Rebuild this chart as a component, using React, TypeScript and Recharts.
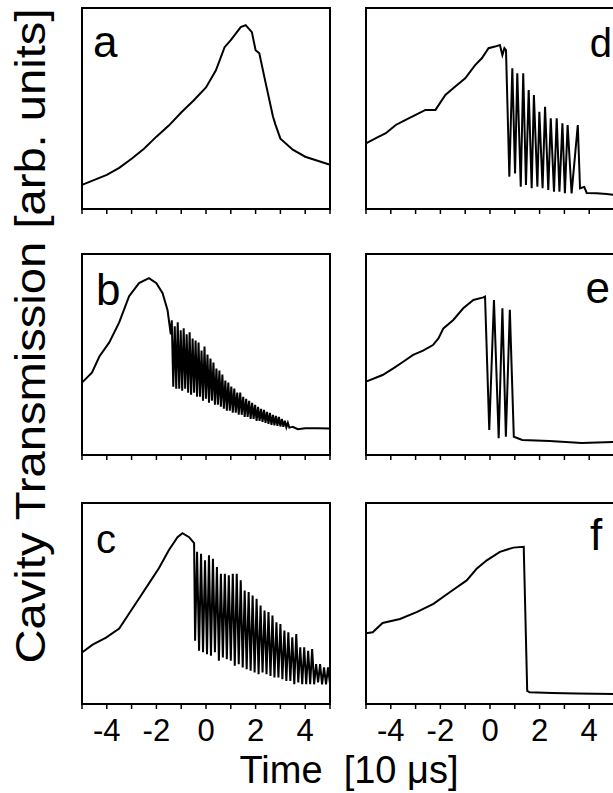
import { LineChart, Line, XAxis, YAxis, ReferenceArea } from "recharts";

// time axis in units of 10 us, signal as a fraction of the panel height
const tickValues = [-5, -4, -3, -2, -1, 0, 1, 2, 3, 4, 5];
const tickLabels = [-4, -2, 0, 2, 4];

const aTime = [-5, -4.5, -4, -3.5, -3, -2.5, -2, -1.5, -1, -0.5, 0, 0.4, 0.75, 1, 1.4, 1.6, 1.85, 2, 2.15, 2.4, 2.7, 2.8, 3, 3.5, 4, 4.5, 5];
const aSignal = [0.12, 0.145, 0.17, 0.205, 0.25, 0.3, 0.36, 0.415, 0.48, 0.54, 0.605, 0.69, 0.805, 0.84, 0.905, 0.915, 0.88, 0.79, 0.775, 0.63, 0.46, 0.42, 0.35, 0.295, 0.26, 0.24, 0.22];

const bTime = [-5, -4.6, -4.3, -3.9, -3.5, -3.1, -2.7, -2.3, -2, -1.75, -1.55, -1.42,
  -1.38, -1.32, -1.26, -1.2, -1.14, -1.08, -1.02, -0.96, -0.9, -0.84, -0.78, -0.72, -0.66, -0.6, -0.54, -0.48,
  -0.42, -0.36, -0.3, -0.24, -0.18, -0.12, -0.06, 0, 0.06, 0.12, 0.18, 0.24, 0.3, 0.36, 0.42, 0.48,
  0.54, 0.6, 0.66, 0.72, 0.78, 0.84, 0.9, 0.96, 1.02, 1.08, 1.14, 1.2, 1.26, 1.32, 1.38, 1.44,
  1.5, 1.56, 1.62, 1.68, 1.74, 1.8, 1.86, 1.92, 1.98, 2.04, 2.1, 2.16, 2.22, 2.28, 2.34, 2.4,
  2.46, 2.52, 2.58, 2.64, 2.7, 2.76, 2.82, 2.88, 2.94, 3, 3.06, 3.12, 3.18, 3.24, 3.3, 3.36,
  3.5, 3.7, 4, 4.5, 5];
const bSignal = [0.36, 0.41, 0.49, 0.56, 0.66, 0.79, 0.855, 0.88, 0.855, 0.805, 0.72, 0.6,
  0.67, 0.34, 0.64, 0.33, 0.66, 0.33, 0.62, 0.32, 0.63, 0.33, 0.6, 0.31, 0.61, 0.3, 0.58, 0.31,
  0.57, 0.29, 0.56, 0.29, 0.52, 0.27, 0.54, 0.28, 0.5, 0.26, 0.48, 0.27, 0.46, 0.25, 0.43, 0.25,
  0.42, 0.24, 0.4, 0.23, 0.37, 0.22, 0.36, 0.22, 0.34, 0.21, 0.33, 0.21, 0.31, 0.2, 0.31, 0.2,
  0.29, 0.19, 0.28, 0.19, 0.27, 0.18, 0.26, 0.18, 0.25, 0.17, 0.24, 0.17, 0.23, 0.165, 0.225, 0.16,
  0.215, 0.155, 0.21, 0.15, 0.2, 0.148, 0.195, 0.145, 0.19, 0.142, 0.18, 0.14, 0.17, 0.138, 0.16, 0.136,
  0.14, 0.128, 0.133, 0.133, 0.132];

const cTime = [-5, -4.57, -4.03, -3.5, -3.1, -2.7, -2.3, -1.9, -1.5, -1.15, -0.95, -0.68, -0.48, -0.44,
  -0.36, -0.28, -0.2, -0.12, -0.04, 0.04, 0.12, 0.2, 0.28, 0.36, 0.44, 0.52, 0.6, 0.68, 0.76, 0.84,
  0.92, 1, 1.08, 1.16, 1.24, 1.32, 1.4, 1.48, 1.56, 1.64, 1.72, 1.8, 1.88, 1.96, 2.04, 2.12,
  2.2, 2.28, 2.36, 2.44, 2.52, 2.6, 2.68, 2.76, 2.84, 2.92, 3, 3.08, 3.16, 3.24, 3.32, 3.4,
  3.48, 3.56, 3.64, 3.72, 3.8, 3.88, 3.96, 4.04, 4.12, 4.2, 4.28, 4.36, 4.44, 4.52, 4.6, 4.68,
  4.76, 4.84, 4.92, 5];
const cSignal = [0.256, 0.295, 0.33, 0.375, 0.45, 0.525, 0.6, 0.675, 0.765, 0.83, 0.85, 0.83, 0.8, 0.315,
  0.757, 0.265, 0.748, 0.257, 0.715, 0.248, 0.74, 0.24, 0.723, 0.257, 0.682, 0.215, 0.648, 0.232, 0.648, 0.223,
  0.64, 0.215, 0.648, 0.19, 0.648, 0.198, 0.615, 0.182, 0.565, 0.173, 0.557, 0.165, 0.54, 0.157, 0.523, 0.148,
  0.49, 0.157, 0.465, 0.148, 0.457, 0.14, 0.44, 0.132, 0.407, 0.132, 0.398, 0.123, 0.365, 0.115, 0.357, 0.115,
  0.332, 0.098, 0.348, 0.107, 0.282, 0.098, 0.282, 0.098, 0.265, 0.098, 0.273, 0.098, 0.198, 0.107, 0.198, 0.098,
  0.182, 0.098, 0.182, 0.1];

const dTime = [-5, -4.6, -4.2, -3.8, -3.4, -3, -2.6, -2.2, -1.8, -1.4, -1, -0.6, -0.33, -0.06, 0.2, 0.4, 0.5, 0.58, 0.645,
  0.78, 0.9, 1.01, 1.1, 1.24, 1.34, 1.45, 1.56, 1.68, 1.77, 1.91, 1.99, 2.12, 2.22, 2.35, 2.45,
  2.58, 2.69, 2.8, 2.92, 3.02, 3.13, 3.29, 3.54, 3.63, 3.8, 3.9, 4.3, 4.7, 5];
const dSignal = [0.327, 0.353, 0.377, 0.418, 0.443, 0.468, 0.493, 0.493, 0.567, 0.609, 0.65, 0.716, 0.75, 0.8, 0.808, 0.816, 0.766, 0.8, 0.79,
  0.161, 0.7, 0.177, 0.675, 0.111, 0.675, 0.119, 0.592, 0.103, 0.567, 0.111, 0.484, 0.103, 0.509, 0.095, 0.451,
  0.086, 0.451, 0.086, 0.426, 0.078, 0.418, 0.078, 0.418, 0.103, 0.11, 0.08, 0.078, 0.075, 0.07];

const eTime = [-5, -4.33, -3.9, -3.5, -3.1, -2.7, -2.3, -2.08, -1.88, -1.48, -1.08, -0.67, -0.27, -0.2,
  -0.03, 0.16, 0.35, 0.5, 0.64, 0.8, 0.96, 1.3, 2.4, 3.7, 5];
const eSignal = [0.365, 0.398, 0.431, 0.464, 0.498, 0.519, 0.547, 0.58, 0.63, 0.672, 0.73, 0.771, 0.784, 0.788,
  0.124, 0.771, 0.083, 0.73, 0.091, 0.722, 0.091, 0.075, 0.07, 0.06, 0.065];

const fTime = [-5, -4.73, -4.33, -3.63, -2.96, -2.28, -1.61, -0.94, -0.54, -0.13, 0.4, 0.94, 1.36, 1.5, 1.6, 2.5, 3.5, 5];
const fSignal = [0.352, 0.357, 0.403, 0.423, 0.457, 0.498, 0.557, 0.615, 0.673, 0.715, 0.757, 0.778, 0.782, 0.065, 0.058, 0.055, 0.052, 0.05];

const FONT = "'Liberation Sans', Arial, Helvetica, sans-serif";
const BOX_W = 248;
const BOX_H = 201;
const PAD = 10;
const AXIS_H = 60;

function toRows(time: number[], signal: number[]) {
  return time.map((t, i) => ({ t, v: signal[i] }));
}

function Panel({ left, top, time, signal, labels }: { left: number; top: number; time: number[]; signal: number[]; labels: boolean }) {
  const data = toRows(time, signal);
  return (
    <div style={{ position: "absolute", left: left - PAD, top: top - PAD }}>
      <LineChart
        width={BOX_W + PAD * 2}
        height={BOX_H + PAD + AXIS_H}
        data={data}
        margin={{ top: PAD, right: PAD, left: PAD, bottom: 0 }}
      >
        <XAxis
          dataKey="t"
          type="number"
          domain={[-5, 5]}
          ticks={tickValues}
          interval={0}
          height={AXIS_H}
          axisLine={{ stroke: "#000", strokeWidth: 2 }}
          tickLine={{ stroke: "#000", strokeWidth: 1.5 }}
          tickSize={5}
          tickMargin={10}
          tick={{ fill: "#000", fontSize: 31, fontFamily: FONT }}
          tickFormatter={(v: number) => (labels && tickLabels.includes(v) ? String(v) : "")}
        />
        <YAxis hide type="number" domain={[0, 1]} />
        <ReferenceArea x1={-5} x2={5} y1={0} y2={1} fill="none" fillOpacity={0} stroke="#000" strokeWidth={2} />
        <Line
          dataKey="v"
          type="linear"
          stroke="#000"
          strokeWidth={2}
          dot={false}
          isAnimationActive={false}
        />
      </LineChart>
    </div>
  );
}

export default function App() {
  const rows = [8, 254, 503];
  return (
    <div style={{ position: "absolute", left: 0, top: 0, width: 613, height: 793, overflow: "hidden", background: "#fff" }}>
      <Panel left={82} top={rows[0]} time={aTime} signal={aSignal} labels={false} />
      <Panel left={82} top={rows[1]} time={bTime} signal={bSignal} labels={false} />
      <Panel left={82} top={rows[2]} time={cTime} signal={cSignal} labels={true} />
      <Panel left={366} top={rows[0]} time={dTime} signal={dSignal} labels={false} />
      <Panel left={366} top={rows[1]} time={eTime} signal={eSignal} labels={false} />
      <Panel left={366} top={rows[2]} time={fTime} signal={fSignal} labels={true} />
      <svg width={613} height={793} style={{ position: "absolute", left: 0, top: 0, pointerEvents: "none" }}>
        <g fontFamily={FONT} fill="#000">
          <text x={93} y={57} fontSize={44}>a</text>
          <text x={96} y={305} fontSize={44}>b</text>
          <text x={96} y={553} fontSize={40}>c</text>
          <text x={612} y={57} fontSize={40} textAnchor="end">d</text>
          <text x={610} y={303} fontSize={44} textAnchor="end">e</text>
          <text x={590} y={550} fontSize={44}>f</text>
          <text x={349} y={783} fontSize={38} textAnchor="middle" style={{ whiteSpace: "pre" }}>
            {"Time  [10 \u03bcs]"}
          </text>
          <text
            x={0}
            y={0}
            fontSize={42}
            textAnchor="middle"
            textLength={655}
            lengthAdjust="spacingAndGlyphs"
            transform="translate(45, 336) rotate(-90)"
          >
            Cavity Transmission [arb. units]
          </text>
        </g>
      </svg>
    </div>
  );
}
